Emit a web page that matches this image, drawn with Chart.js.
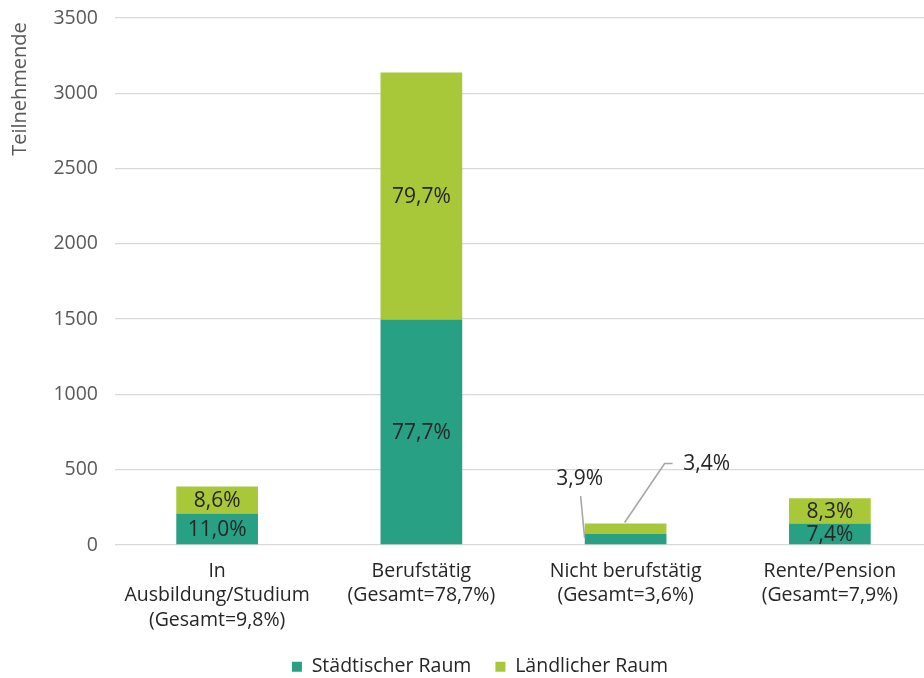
<!DOCTYPE html>
<html>
<head>
<meta charset="utf-8">
<script src="https://cdn.jsdelivr.net/npm/chart.js@4/dist/chart.umd.min.js"></script>
<style>
    html, body { margin: 0; padding: 0; background: #fff; overflow: hidden; }
    #chart { display: block; }
</style>
</head>
<body>
<canvas id="chart" width="932" height="678"></canvas>
<script>
// Teilnehmende nach Erwerbsstatus und Wohnort
var categories = [
    ['In', 'Ausbildung/Studium', '(Gesamt=9,8%)'],
    ['Berufstätig', '(Gesamt=78,7%)'],
    ['Nicht berufstätig', '(Gesamt=3,6%)'],
    ['Rente/Pension', '(Gesamt=7,9%)']
];
var staedtisch = [210, 1497, 73, 143];
var laendlich = [178, 1641, 70, 168];
var staedtischPct = ['11,0%', '77,7%', '3,9%', '7,4%'];
var laendlichPct = ['8,6%', '79,7%', '3,4%', '8,3%'];
var yTicks = [0, 500, 1000, 1500, 2000, 2500, 3000, 3500];

var fontFamily = "'Open Sans', 'Noto Sans', sans-serif";
var colorStadt = '#27a084';
var colorLand = '#a8c839';

// percentage labels, centred in the segment or pulled out with a leader line
let barLabels = {
    id: 'barLabels',
    afterDatasetsDraw: function (chart) {
        let ctx = chart.ctx;
        let texts = [staedtischPct, laendlichPct];
        ctx.save();
        ctx.font = '21px ' + fontFamily;
        ctx.fillStyle = '#262626';
        ctx.textAlign = 'center';
        ctx.textBaseline = 'middle';
        chart.data.datasets.forEach(function (ds, di) {
            let meta = chart.getDatasetMeta(di);
            meta.data.forEach(function (el, i) {
                let label = texts[di][i];
                if (i == 2) {
                    ctx.strokeStyle = '#a6a6a6';
                    ctx.lineWidth = 1.6;
                    ctx.beginPath();
                    if (di == 0) {
                        ctx.moveTo(el.x - 45, el.y - 38);
                        ctx.lineTo(el.x - 41, el.y + 4);
                        ctx.stroke();
                        ctx.fillText(label, el.x - 46, el.y - 55);
                    } else {
                        ctx.moveTo(el.x + 47, el.y - 60);
                        ctx.lineTo(el.x + 39, el.y - 60);
                        ctx.lineTo(el.x - 1, el.y - 1);
                        ctx.stroke();
                        ctx.fillText(label, el.x + 81, el.y - 59);
                    }
                } else {
                    ctx.fillText(label, el.x, (el.y + el.base) / 2 + 1);
                }
            });
        });
        ctx.restore();
    }
};

// rotated axis title sitting at the top of the value axis
let axisTitle = {
    id: 'axisTitle',
    afterDraw: function (chart) {
        let ctx = chart.ctx;
        ctx.save();
        ctx.translate(20, 89);
        ctx.rotate(-Math.PI / 2);
        ctx.font = '20px ' + fontFamily;
        ctx.fillStyle = '#595959';
        ctx.textAlign = 'center';
        ctx.textBaseline = 'middle';
        ctx.fillText('Teilnehmende', 0, 0);
        ctx.restore();
    }
};

// keep the wide gap between legend items but not the extra height it brings
let legendHeight = {
    id: 'legendHeight',
    afterInit: function (chart) {
        let legend = chart.legend;
        if (!legend) return;
        let fit = legend.fit;
        legend.fit = function () {
            fit.call(this);
            this.height = 45;
        };
    }
};

let canvas = document.getElementById('chart');
new Chart(canvas, {
    type: 'bar',
    data: {
        labels: categories,
        datasets: [{
            label: 'Städtischer Raum',
            data: staedtisch,
            backgroundColor: colorStadt
        }, {
            label: 'Ländlicher Raum',
            data: laendlich,
            backgroundColor: colorLand
        }]
    },
    options: {
        responsive: false,
        animation: false,
        barPercentage: 0.4,
        categoryPercentage: 1,
        layout: {
            padding: { left: 28, top: 18, right: 0, bottom: 0 }
        },
        plugins: {
            legend: {
                position: 'bottom',
                labels: {
                    boxWidth: 10,
                    boxHeight: 10,
                    padding: 24,
                    color: '#262626',
                    font: { family: fontFamily, size: 19.5 }
                }
            },
            tooltip: { enabled: false }
        },
        scales: {
            x: {
                stacked: true,
                grid: { display: false },
                border: { display: false },
                ticks: {
                    color: '#262626',
                    padding: 6,
                    maxRotation: 0,
                    autoSkip: false,
                    font: { family: fontFamily, size: 19.5, lineHeight: 1.25 }
                },
                afterFit: function (scale) {
                    scale.height = 88;
                }
            },
            y: {
                stacked: true,
                min: 0,
                max: 3500,
                afterBuildTicks: function (scale) {
                    scale.ticks = yTicks.map(function (v) { return { value: v }; });
                },
                grid: { color: '#d9d9d9', lineWidth: 1.3, drawTicks: false },
                border: { display: false },
                ticks: {
                    color: '#595959',
                    padding: 17,
                    font: { family: fontFamily, size: 19.5 },
                    callback: function (value) {
                        return String(value);
                    }
                },
                afterFit: function (scale) {
                    scale.width = 87;
                    scale.paddingTop = 0;
                    scale.paddingBottom = 0;
                }
            }
        }
    },
    plugins: [barLabels, axisTitle, legendHeight]
});
</script>
</body>
</html>
